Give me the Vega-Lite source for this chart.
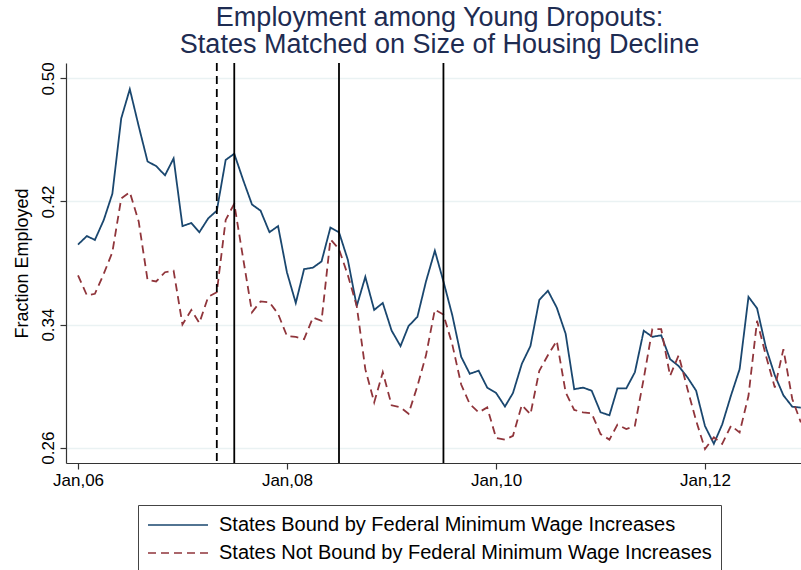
{
  "$schema": "https://vega.github.io/schema/vega-lite/v6.json",
  "autosize": {"type": "none"},
  "padding": {"left": 66, "top": 63, "right": 0, "bottom": 107},
  "width": 735,
  "height": 400,
  "background": "white",
  "config": {
    "font": "Liberation Sans",
    "view": {"stroke": null}
  },
  "title": {
    "text": ["Employment among Young Dropouts:", "States Matched on Size of Housing Decline"],
    "fontSize": 27,
    "fontWeight": "normal",
    "color": "#1e2c52",
    "anchor": "middle",
    "lineHeight": 27,
    "offset": 3,
    "dx": 6
  },
  "datasets": {
    "series": [
      {"date": "2006-01-01", "g": "Bound", "v": 0.392},
      {"date": "2006-02-01", "g": "Bound", "v": 0.3975},
      {"date": "2006-03-01", "g": "Bound", "v": 0.395},
      {"date": "2006-04-01", "g": "Bound", "v": 0.408},
      {"date": "2006-05-01", "g": "Bound", "v": 0.425},
      {"date": "2006-06-01", "g": "Bound", "v": 0.474},
      {"date": "2006-07-01", "g": "Bound", "v": 0.493},
      {"date": "2006-08-01", "g": "Bound", "v": 0.469},
      {"date": "2006-09-01", "g": "Bound", "v": 0.446},
      {"date": "2006-10-01", "g": "Bound", "v": 0.443},
      {"date": "2006-11-01", "g": "Bound", "v": 0.437},
      {"date": "2006-12-01", "g": "Bound", "v": 0.448},
      {"date": "2007-01-01", "g": "Bound", "v": 0.404},
      {"date": "2007-02-01", "g": "Bound", "v": 0.406},
      {"date": "2007-03-01", "g": "Bound", "v": 0.400},
      {"date": "2007-04-01", "g": "Bound", "v": 0.409},
      {"date": "2007-05-01", "g": "Bound", "v": 0.414},
      {"date": "2007-06-01", "g": "Bound", "v": 0.447},
      {"date": "2007-07-01", "g": "Bound", "v": 0.451},
      {"date": "2007-08-01", "g": "Bound", "v": 0.434},
      {"date": "2007-09-01", "g": "Bound", "v": 0.418},
      {"date": "2007-10-01", "g": "Bound", "v": 0.414},
      {"date": "2007-11-01", "g": "Bound", "v": 0.400},
      {"date": "2007-12-01", "g": "Bound", "v": 0.404},
      {"date": "2008-01-01", "g": "Bound", "v": 0.374},
      {"date": "2008-02-01", "g": "Bound", "v": 0.354},
      {"date": "2008-03-01", "g": "Bound", "v": 0.376},
      {"date": "2008-04-01", "g": "Bound", "v": 0.377},
      {"date": "2008-05-01", "g": "Bound", "v": 0.381},
      {"date": "2008-06-01", "g": "Bound", "v": 0.403},
      {"date": "2008-07-01", "g": "Bound", "v": 0.400},
      {"date": "2008-08-01", "g": "Bound", "v": 0.382},
      {"date": "2008-09-01", "g": "Bound", "v": 0.352},
      {"date": "2008-10-01", "g": "Bound", "v": 0.371},
      {"date": "2008-11-01", "g": "Bound", "v": 0.3495},
      {"date": "2008-12-01", "g": "Bound", "v": 0.354},
      {"date": "2009-01-01", "g": "Bound", "v": 0.336},
      {"date": "2009-02-01", "g": "Bound", "v": 0.326},
      {"date": "2009-03-01", "g": "Bound", "v": 0.339},
      {"date": "2009-04-01", "g": "Bound", "v": 0.345},
      {"date": "2009-05-01", "g": "Bound", "v": 0.368},
      {"date": "2009-06-01", "g": "Bound", "v": 0.388},
      {"date": "2009-07-01", "g": "Bound", "v": 0.368},
      {"date": "2009-08-01", "g": "Bound", "v": 0.346},
      {"date": "2009-09-01", "g": "Bound", "v": 0.319},
      {"date": "2009-10-01", "g": "Bound", "v": 0.308},
      {"date": "2009-11-01", "g": "Bound", "v": 0.310},
      {"date": "2009-12-01", "g": "Bound", "v": 0.299},
      {"date": "2010-01-01", "g": "Bound", "v": 0.2955},
      {"date": "2010-02-01", "g": "Bound", "v": 0.2867},
      {"date": "2010-03-01", "g": "Bound", "v": 0.2955},
      {"date": "2010-04-01", "g": "Bound", "v": 0.3145},
      {"date": "2010-05-01", "g": "Bound", "v": 0.326},
      {"date": "2010-06-01", "g": "Bound", "v": 0.356},
      {"date": "2010-07-01", "g": "Bound", "v": 0.362},
      {"date": "2010-08-01", "g": "Bound", "v": 0.351},
      {"date": "2010-09-01", "g": "Bound", "v": 0.334},
      {"date": "2010-10-01", "g": "Bound", "v": 0.298},
      {"date": "2010-11-01", "g": "Bound", "v": 0.299},
      {"date": "2010-12-01", "g": "Bound", "v": 0.297},
      {"date": "2011-01-01", "g": "Bound", "v": 0.283},
      {"date": "2011-02-01", "g": "Bound", "v": 0.281},
      {"date": "2011-03-01", "g": "Bound", "v": 0.2985},
      {"date": "2011-04-01", "g": "Bound", "v": 0.2985},
      {"date": "2011-05-01", "g": "Bound", "v": 0.309},
      {"date": "2011-06-01", "g": "Bound", "v": 0.336},
      {"date": "2011-07-01", "g": "Bound", "v": 0.332},
      {"date": "2011-08-01", "g": "Bound", "v": 0.333},
      {"date": "2011-09-01", "g": "Bound", "v": 0.3175},
      {"date": "2011-10-01", "g": "Bound", "v": 0.313},
      {"date": "2011-11-01", "g": "Bound", "v": 0.3056},
      {"date": "2011-12-01", "g": "Bound", "v": 0.297},
      {"date": "2012-01-01", "g": "Bound", "v": 0.274},
      {"date": "2012-02-01", "g": "Bound", "v": 0.2625},
      {"date": "2012-03-01", "g": "Bound", "v": 0.275},
      {"date": "2012-04-01", "g": "Bound", "v": 0.294},
      {"date": "2012-05-01", "g": "Bound", "v": 0.311},
      {"date": "2012-06-01", "g": "Bound", "v": 0.358},
      {"date": "2012-07-01", "g": "Bound", "v": 0.3505},
      {"date": "2012-08-01", "g": "Bound", "v": 0.325},
      {"date": "2012-09-01", "g": "Bound", "v": 0.307},
      {"date": "2012-10-01", "g": "Bound", "v": 0.294},
      {"date": "2012-11-01", "g": "Bound", "v": 0.2866},
      {"date": "2012-12-01", "g": "Bound", "v": 0.286},
      {"date": "2006-01-01", "g": "NotBound", "v": 0.372},
      {"date": "2006-02-01", "g": "NotBound", "v": 0.359},
      {"date": "2006-03-01", "g": "NotBound", "v": 0.360},
      {"date": "2006-04-01", "g": "NotBound", "v": 0.373},
      {"date": "2006-05-01", "g": "NotBound", "v": 0.387},
      {"date": "2006-06-01", "g": "NotBound", "v": 0.422},
      {"date": "2006-07-01", "g": "NotBound", "v": 0.426},
      {"date": "2006-08-01", "g": "NotBound", "v": 0.407},
      {"date": "2006-09-01", "g": "NotBound", "v": 0.369},
      {"date": "2006-10-01", "g": "NotBound", "v": 0.368},
      {"date": "2006-11-01", "g": "NotBound", "v": 0.374},
      {"date": "2006-12-01", "g": "NotBound", "v": 0.375},
      {"date": "2007-01-01", "g": "NotBound", "v": 0.340},
      {"date": "2007-02-01", "g": "NotBound", "v": 0.3495},
      {"date": "2007-03-01", "g": "NotBound", "v": 0.341},
      {"date": "2007-04-01", "g": "NotBound", "v": 0.358},
      {"date": "2007-05-01", "g": "NotBound", "v": 0.361},
      {"date": "2007-06-01", "g": "NotBound", "v": 0.408},
      {"date": "2007-07-01", "g": "NotBound", "v": 0.4185},
      {"date": "2007-08-01", "g": "NotBound", "v": 0.383},
      {"date": "2007-09-01", "g": "NotBound", "v": 0.348},
      {"date": "2007-10-01", "g": "NotBound", "v": 0.355},
      {"date": "2007-11-01", "g": "NotBound", "v": 0.3545},
      {"date": "2007-12-01", "g": "NotBound", "v": 0.347},
      {"date": "2008-01-01", "g": "NotBound", "v": 0.3326},
      {"date": "2008-02-01", "g": "NotBound", "v": 0.332},
      {"date": "2008-03-01", "g": "NotBound", "v": 0.3305},
      {"date": "2008-04-01", "g": "NotBound", "v": 0.3445},
      {"date": "2008-05-01", "g": "NotBound", "v": 0.3424},
      {"date": "2008-06-01", "g": "NotBound", "v": 0.3954},
      {"date": "2008-07-01", "g": "NotBound", "v": 0.389},
      {"date": "2008-08-01", "g": "NotBound", "v": 0.372},
      {"date": "2008-09-01", "g": "NotBound", "v": 0.352},
      {"date": "2008-10-01", "g": "NotBound", "v": 0.311},
      {"date": "2008-11-01", "g": "NotBound", "v": 0.2894},
      {"date": "2008-12-01", "g": "NotBound", "v": 0.309},
      {"date": "2009-01-01", "g": "NotBound", "v": 0.2875},
      {"date": "2009-02-01", "g": "NotBound", "v": 0.2861},
      {"date": "2009-03-01", "g": "NotBound", "v": 0.282},
      {"date": "2009-04-01", "g": "NotBound", "v": 0.300},
      {"date": "2009-05-01", "g": "NotBound", "v": 0.320},
      {"date": "2009-06-01", "g": "NotBound", "v": 0.3497},
      {"date": "2009-07-01", "g": "NotBound", "v": 0.3465},
      {"date": "2009-08-01", "g": "NotBound", "v": 0.327},
      {"date": "2009-09-01", "g": "NotBound", "v": 0.301},
      {"date": "2009-10-01", "g": "NotBound", "v": 0.2883},
      {"date": "2009-11-01", "g": "NotBound", "v": 0.2829},
      {"date": "2009-12-01", "g": "NotBound", "v": 0.2861},
      {"date": "2010-01-01", "g": "NotBound", "v": 0.2662},
      {"date": "2010-02-01", "g": "NotBound", "v": 0.2651},
      {"date": "2010-03-01", "g": "NotBound", "v": 0.2677},
      {"date": "2010-04-01", "g": "NotBound", "v": 0.2877},
      {"date": "2010-05-01", "g": "NotBound", "v": 0.2816},
      {"date": "2010-06-01", "g": "NotBound", "v": 0.310},
      {"date": "2010-07-01", "g": "NotBound", "v": 0.320},
      {"date": "2010-08-01", "g": "NotBound", "v": 0.3294},
      {"date": "2010-09-01", "g": "NotBound", "v": 0.296},
      {"date": "2010-10-01", "g": "NotBound", "v": 0.2845},
      {"date": "2010-11-01", "g": "NotBound", "v": 0.2829},
      {"date": "2010-12-01", "g": "NotBound", "v": 0.2823},
      {"date": "2011-01-01", "g": "NotBound", "v": 0.2688},
      {"date": "2011-02-01", "g": "NotBound", "v": 0.2652},
      {"date": "2011-03-01", "g": "NotBound", "v": 0.2749},
      {"date": "2011-04-01", "g": "NotBound", "v": 0.2721},
      {"date": "2011-05-01", "g": "NotBound", "v": 0.2742},
      {"date": "2011-06-01", "g": "NotBound", "v": 0.305},
      {"date": "2011-07-01", "g": "NotBound", "v": 0.337},
      {"date": "2011-08-01", "g": "NotBound", "v": 0.337},
      {"date": "2011-09-01", "g": "NotBound", "v": 0.3067},
      {"date": "2011-10-01", "g": "NotBound", "v": 0.320},
      {"date": "2011-11-01", "g": "NotBound", "v": 0.298},
      {"date": "2011-12-01", "g": "NotBound", "v": 0.2775},
      {"date": "2012-01-01", "g": "NotBound", "v": 0.2591},
      {"date": "2012-02-01", "g": "NotBound", "v": 0.2667},
      {"date": "2012-03-01", "g": "NotBound", "v": 0.2624},
      {"date": "2012-04-01", "g": "NotBound", "v": 0.2742},
      {"date": "2012-05-01", "g": "NotBound", "v": 0.2699},
      {"date": "2012-06-01", "g": "NotBound", "v": 0.2937},
      {"date": "2012-07-01", "g": "NotBound", "v": 0.3424},
      {"date": "2012-08-01", "g": "NotBound", "v": 0.3197},
      {"date": "2012-09-01", "g": "NotBound", "v": 0.2991},
      {"date": "2012-10-01", "g": "NotBound", "v": 0.324},
      {"date": "2012-11-01", "g": "NotBound", "v": 0.2916},
      {"date": "2012-12-01", "g": "NotBound", "v": 0.2764}
    ]
  },
  "layer": [
    {
      "data": {"name": "series"},
      "mark": {"type": "line", "strokeWidth": 1.8},
      "encoding": {
        "x": {
          "field": "date",
          "type": "temporal",
          "scale": {
            "type": "utc",
            "domain": [
              {"year": 2005, "month": 11, "date": 20, "utc": true},
              {"year": 2012, "month": 12, "date": 1, "hours": 12, "utc": true}
            ]
          },
          "axis": {
            "title": null,
            "values": [
              {"year": 2006, "month": 1, "date": 1, "utc": true},
              {"year": 2008, "month": 1, "date": 1, "utc": true},
              {"year": 2010, "month": 1, "date": 1, "utc": true},
              {"year": 2012, "month": 1, "date": 1, "utc": true}
            ],
            "format": "%b,%y",
            "grid": false,
            "domainColor": "#333333",
            "domainWidth": 1.2,
            "tickColor": "#333333",
            "tickSize": 6,
            "tickWidth": 1.2,
            "labelFontSize": 17,
            "labelColor": "#000000",
            "labelPadding": 3,
            "labelFlush": false
          }
        },
        "y": {
          "field": "v",
          "type": "quantitative",
          "scale": {"domain": [0.25, 0.51], "nice": false, "zero": false},
          "axis": {
            "title": "Fraction Employed",
            "titleFontSize": 18,
            "titleFontWeight": "normal",
            "titleColor": "#000000",
            "titlePadding": 8,
            "values": [0.26, 0.34, 0.42, 0.50],
            "format": ".2f",
            "labelAngle": -90,
            "labelAlign": "center",
            "labelBaseline": "bottom",
            "labelFontSize": 17,
            "labelColor": "#000000",
            "labelPadding": 3,
            "grid": true,
            "gridColor": "#eaf2f3",
            "gridWidth": 1.5,
            "domainColor": "#333333",
            "domainWidth": 1.2,
            "tickColor": "#333333",
            "tickSize": 6,
            "tickWidth": 1.2
          }
        },
        "color": {
          "field": "g",
          "type": "nominal",
          "scale": {"domain": ["Bound", "NotBound"], "range": ["#1a476f", "#90353b"]},
          "legend": {
            "orient": "none",
            "legendX": 72,
            "legendY": 442,
            "title": null,
            "labelExpr": "datum.value === 'Bound' ? 'States Bound by Federal Minimum Wage Increases' : 'States Not Bound by Federal Minimum Wage Increases'",
            "labelFontSize": 20,
            "labelLimit": 0,
            "labelColor": "#000000",
            "symbolType": "M-1,0H5",
            "symbolSize": 400,
            "symbolStrokeWidth": 1.5,
            "strokeColor": "#444444",
            "fillColor": "#ffffff",
            "padding": 9,
            "rowPadding": 7,
            "labelOffset": 50
          }
        },
        "strokeDash": {
          "field": "g",
          "type": "nominal",
          "scale": {"domain": ["Bound", "NotBound"], "range": [[1, 0], [8, 5]]},
          "legend": null
        }
      }
    },
    {
      "data": {"values": [{"when": "2007-05-01"}]},
      "mark": {"type": "rule", "color": "#000000", "strokeWidth": 1.8, "strokeDash": [8, 5]},
      "encoding": {
        "x": {"field": "when", "type": "temporal"}
      }
    },
    {
      "data": {"values": [{"when": "2007-07-01"}, {"when": "2008-07-01"}, {"when": "2009-07-01"}]},
      "mark": {"type": "rule", "color": "#000000", "strokeWidth": 1.8},
      "encoding": {
        "x": {"field": "when", "type": "temporal"}
      }
    }
  ]
}
